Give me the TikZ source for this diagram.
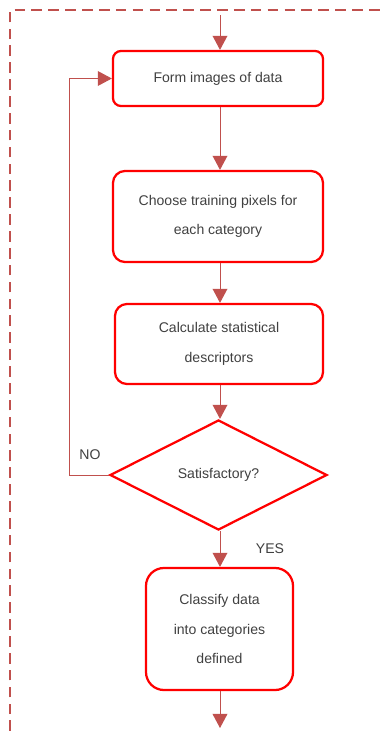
\documentclass[tikz,border=0pt]{standalone}
\usepackage{fontspec}
\setmainfont{Liberation Sans}
\usetikzlibrary{shapes.geometric,arrows.meta}

\definecolor{boxred}{HTML}{FF0000}
\definecolor{linkred}{HTML}{C0504D}
\definecolor{txtgray}{HTML}{404040}

\begin{document}
\begin{tikzpicture}[
  x=0.025cm, y=-0.025cm,
  stepbox/.style={rectangle, draw=boxred, line width=1.6pt, rounded corners=0.2cm,
              minimum width=5.25cm, inner sep=0pt, align=center,
              text=txtgray, font=\fontsize{10}{21}\selectfont},
  decision/.style={diamond, draw=boxred, line width=1.6pt, inner sep=0pt,
              minimum width=5.425cm, minimum height=2.75cm,
              text=txtgray, font=\fontsize{10}{12}\selectfont},
  lbl/.style={text=txtgray, font=\fontsize{10}{12}\selectfont},
  arrow/.style={-{Triangle[length=10pt, width=10.5pt]}, draw=linkred, line width=0.7pt},
]
\useasboundingbox (0,0) rectangle (385,731);

% dashed frame
\draw[linkred, line width=2.1pt, dash pattern=on 7.5pt off 4.5pt] (10,731) -- (10,10) -- (385,10);

\coordinate (in) at (220,15);
\coordinate (out) at (220,728);

\node[stepbox, minimum height=1.375cm] (form) at (218,78.5) {Form images of data};
\node[stepbox, minimum height=2.275cm, rounded corners=0.3cm] (choose) at (218,216.5)
  {Choose training pixels for\\each category};
\node[stepbox, minimum width=5.2cm, minimum height=2cm, rounded corners=0.3cm] (calc) at (219,344)
  {Calculate statistical\\descriptors};
\node[decision] (sat) at (218.5,475) {Satisfactory?};
\node[stepbox, minimum width=3.675cm, minimum height=3.05cm, rounded corners=0.45cm] (classify) at (219.5,629)
  {Classify data\\into categories\\defined};

\node[lbl] (no) at (90,455) {NO};
\node[lbl] (yes) at (270,549) {YES};

\draw[arrow] (in) -- (in |- form.north);
\draw[arrow] (in |- form.south) -- (in |- choose.north);
\draw[arrow] (in |- choose.south) -- (in |- calc.north);
\draw[arrow] (in |- calc.south) -- (in |- sat.north);
\draw[arrow] (in |- sat.south) -- (in |- classify.north);
\draw[arrow] (in |- classify.south) -- (out);
\draw[arrow] (sat.west) -- ++(-39,0) |- (form.west);

\end{tikzpicture}
\end{document}
